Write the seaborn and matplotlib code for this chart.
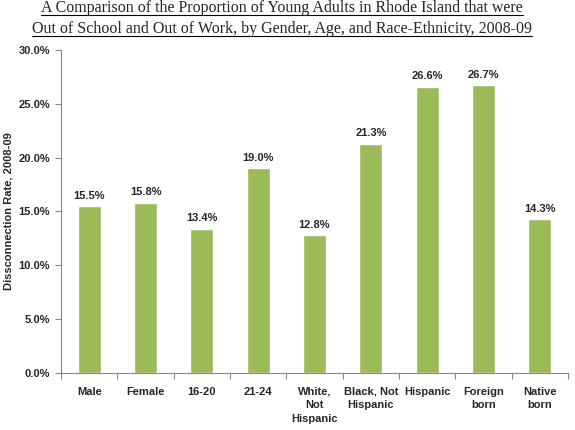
import numpy as np
import pandas as pd
import matplotlib
matplotlib.use("Agg")
import matplotlib.pyplot as plt
import seaborn as sns
from matplotlib.lines import Line2D

groups = ["Male", "Female", "16-20", "21-24", "White,\nNot\nHispanic",
          "Black, Not\nHispanic", "Hispanic", "Foreign\nborn", "Native\nborn"]
rates = [15.5, 15.8, 13.4, 19.0, 12.8, 21.3, 26.6, 26.7, 14.3]
yticks = [0, 5, 10, 15, 20, 25, 30]

data = pd.DataFrame({"group": groups, "rate": rates})

sns.set_style("white")
plt.rcParams['font.family'] = ['Liberation Sans', 'DejaVu Sans']

fig = plt.figure(figsize=(5.75, 4.3), dpi=100)
ax = fig.add_axes([0.1061, 0.1326, 0.8817, 0.7512])
sns.barplot(data=data, x="group", y="rate", color="#9BBB59", width=0.41,
            saturation=1, ax=ax)

for i, v in enumerate(rates):
    ax.text(i, v + 0.5, f"{v:.1f}%", ha="center", va="bottom",
            fontsize=8, fontweight="bold")

ax.set_ylim(0, 30)
ax.set_xlim(-0.5, len(groups) - 0.5)
ax.set_yticks(yticks)
ax.set_yticklabels([f"{t:.1f}%" for t in yticks], fontsize=8, fontweight="bold")
ax.set_xticks(np.arange(len(groups) + 1) - 0.5)
ax.set_xticklabels([])
for i, g in enumerate(groups):
    ax.text(i, -1.3, g, ha="center", va="top", fontsize=8,
            fontweight="bold", linespacing=1.42)
ax.tick_params(axis="both", direction="out", length=4, width=0.8,
               color="#888888", bottom=True, left=True)
ax.tick_params(axis="y", pad=4)
ax.set_xlabel("")
ax.set_ylabel("Dissconnection Rate, 2008-09", fontsize=8, fontweight="bold")
ax.yaxis.set_label_coords(-0.094, 0.5)
for s in ["top", "right"]:
    ax.spines[s].set_visible(False)
for s in ["left", "bottom"]:
    ax.spines[s].set_color("#888888")
    ax.spines[s].set_linewidth(0.8)

# two-line underlined title
title1 = "A Comparison of the Proportion of Young Adults in Rhode Island that were"
title2 = "Out of School and Out of Work, by Gender, Age, and Race-Ethnicity, 2008-09"
t1 = fig.text(0.49, 0.971, title1, ha="center", va="baseline", fontsize=11.5, family="Liberation Serif")
t2 = fig.text(0.49, 0.924, title2, ha="center", va="baseline", fontsize=11.5, family="Liberation Serif")
fig.canvas.draw()
r = fig.canvas.get_renderer()
for t, yl in [(t1, 0.964), (t2, 0.9174)]:
    bb = t.get_window_extent(r).transformed(fig.transFigure.inverted())
    fig.add_artist(Line2D([bb.x0, bb.x1], [yl, yl], color="black", lw=0.8))

fig.savefig("out.png", dpi=100)
